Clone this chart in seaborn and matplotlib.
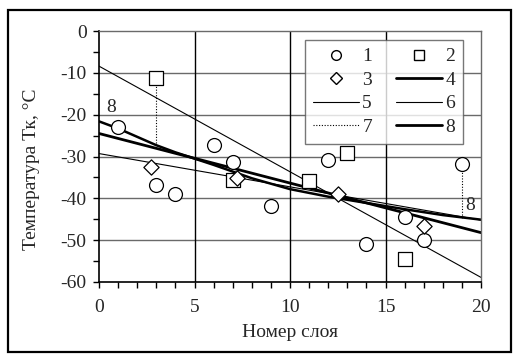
import matplotlib
matplotlib.use("Agg")
import matplotlib.pyplot as plt
import matplotlib.patches as mpatches
from matplotlib.lines import Line2D
from matplotlib.ticker import MultipleLocator
import seaborn as sns

# Series 1: circles
s1_x = [1, 3, 4, 6, 7, 9, 12, 14, 16, 17, 19]
s1_y = [-23.0, -36.8, -39.0, -27.3, -31.2, -41.8, -30.8, -50.9, -44.5, -50.0, -31.8]
# Series 2: squares
s2_x = [3, 7, 11, 13, 16]
s2_y = [-11.3, -35.6, -35.8, -29.2, -54.6]
# Series 3: diamonds
s3_x = [2.7, 7.2, 12.5, 17.0]
s3_y = [-32.6, -35.2, -39.0, -46.5]
# Trend lines 4, 5, 6 (end points)
l4_x = [0, 20]
l4_y = [-24.5, -48.2]
l5_x = [0, 20]
l5_y = [-8.4, -58.9]
l6_x = [0, 20]
l6_y = [-29.3, -45.2]
# Curve 8
l8_x = [0, 1, 2, 3, 4, 5, 6, 8, 10, 12, 14, 16, 18, 20]
l8_y = [-21.6, -23.3, -25.3, -27.3, -29.0, -30.5, -32.0, -35.2, -37.8, -39.6,
        -41.1, -42.6, -44.0, -45.1]
# Deviations 7 (dotted)
d7_x = [3, 19]
d7_top = [-11.3, -31.8]
d7_bottom = [-27.3, -44.8]

x_ticks = [0, 5, 10, 15, 20]
y_ticks = [0, -10, -20, -30, -40, -50, -60]
x_label = "Номер слоя"
y_label = "Температура Тк, °С"
legend_labels = ["1", "2", "3", "4", "5", "6", "7", "8"]

sns.set_style("white")
plt.rcParams["font.family"] = ["Liberation Serif", "DejaVu Serif"]
plt.rcParams["axes.unicode_minus"] = False
plt.rcParams["font.size"] = 14

fig = plt.figure(figsize=(5.14, 3.56), dpi=100)
ax = fig.add_axes([99 / 514, 1 - 282 / 356, 382 / 514, 251 / 356])

# Outer frame around the whole figure
fig.patches.append(mpatches.Rectangle((8 / 514, 4 / 356), 503 / 514, 342 / 356,
                                      transform=fig.transFigure, fill=False,
                                      edgecolor="black", linewidth=1.6))

ax.set_xlim(0, 20)
ax.set_ylim(-60, 0)
ax.set_xticks(x_ticks)
ax.set_yticks(y_ticks)
ax.xaxis.set_minor_locator(MultipleLocator(1))
ax.yaxis.set_minor_locator(MultipleLocator(5))
ax.tick_params(axis="both", which="both", direction="out", length=4, width=1,
               color="black", labelsize=14, bottom=True, left=True)
ax.tick_params(axis="x", which="major", pad=8)
ax.tick_params(axis="y", which="major", pad=5)

for y in y_ticks[1:-1]:
    ax.axhline(y, color="#6a6a6a", linewidth=1.0, zorder=0)
for x in x_ticks[1:-1]:
    ax.axvline(x, color="black", linewidth=1.0, zorder=0)

for side in ["top", "right"]:
    ax.spines[side].set_color("#6a6a6a")
    ax.spines[side].set_linewidth(1.0)
for side in ["left", "bottom"]:
    ax.spines[side].set_color("black")
    ax.spines[side].set_linewidth(1.2)

thick = 2.0
thin = 0.8
sns.lineplot(x=l5_x, y=l5_y, ax=ax, color="black", linewidth=thin, zorder=2)
sns.lineplot(x=l6_x, y=l6_y, ax=ax, color="black", linewidth=thin, zorder=2)
sns.lineplot(x=l4_x, y=l4_y, ax=ax, color="black", linewidth=thick, zorder=2)
sns.lineplot(x=l8_x, y=l8_y, ax=ax, color="black", linewidth=thick * 0.9,
             sort=False, zorder=2)
for xd, yt, yb in zip(d7_x, d7_top, d7_bottom):
    ax.plot([xd, xd], [yt, yb], color="black", linewidth=0.8,
            linestyle=(0, (1.0, 1.5)), zorder=2)

mk = dict(facecolor="white", edgecolor="black", linewidth=0.9, zorder=3, legend=False)
sns.scatterplot(x=s1_x, y=s1_y, ax=ax, marker="o", s=100, **mk)
sns.scatterplot(x=s2_x, y=s2_y, ax=ax, marker="s", s=110, **mk)
sns.scatterplot(x=s3_x, y=s3_y, ax=ax, marker="D", s=60, **mk)

ax.text(0.63, -18.4, "8", fontsize=14, ha="center", va="center")
ax.text(19.45, -41.6, "8", fontsize=14, ha="center", va="center")

ax.set_xlabel(x_label, fontsize=14, labelpad=6)
ax.set_ylabel(y_label, fontsize=14, labelpad=6)
ax.yaxis.set_label_coords(-0.155, 0.45)

h1 = Line2D([], [], marker="o", linestyle="none", markerfacecolor="white",
            markeredgecolor="black", markersize=7)
h2 = Line2D([], [], marker="s", linestyle="none", markerfacecolor="white",
            markeredgecolor="black", markersize=7)
h3 = Line2D([], [], marker="D", linestyle="none", markerfacecolor="white",
            markeredgecolor="black", markersize=6)
h4 = Line2D([], [], color="black", linewidth=thick)
h5 = Line2D([], [], color="black", linewidth=thin)
h6 = Line2D([], [], color="black", linewidth=thin)
h7 = Line2D([], [], color="black", linewidth=0.8, linestyle=(0, (1.0, 1.5)))
h8 = Line2D([], [], color="black", linewidth=thick)
handles = [h1, h3, h5, h7, h2, h4, h6, h8]
labels = [legend_labels[i] for i in [0, 2, 4, 6, 1, 3, 5, 7]]
leg = ax.legend(handles, labels, ncol=2, loc="upper left",
                bbox_to_anchor=(0.539, 0.964, 0.414, 0.0), mode="expand",
                borderaxespad=0.0, fancybox=False, frameon=True, fontsize=14,
                handlelength=2.4, handletextpad=0.15, columnspacing=1.6,
                labelspacing=0.3, borderpad=0.4)
leg.get_frame().set_edgecolor("#555555")
leg.get_frame().set_linewidth(1.0)

fig.savefig("out.png", dpi=100)
